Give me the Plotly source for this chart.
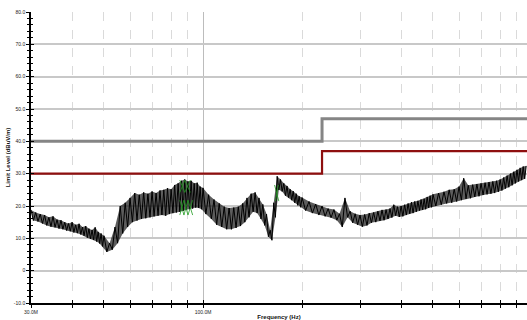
import math
import plotly.graph_objects as go

# ---------------- data ----------------
# Limit lines (frequency in MHz, level in dBuV/m)
LIMIT_FREQ = [30, 230, 1000]
LIMIT_GREY = [40, 47, 47]
LIMIT_RED = [30, 37, 37]

# Measured trace (peak detector sweep), MHz / dBuV/m; alternating crest / trough readings
FREQ_A = [30.0, 30.5, 31.0, 31.5, 32.0, 32.5, 33.0, 33.5, 34.0, 34.5, 35.0, 35.5, 36.0, 36.5,
          37.0, 37.5, 38.0, 38.5, 39.0, 39.5, 40.0, 40.5, 41.0, 41.5, 42.0, 42.5, 43.0, 43.5,
          44.0, 44.5, 45.0, 45.5, 46.0, 46.5, 47.0, 47.5, 48.0, 48.5, 49.0, 49.5, 50.0]
LEVEL_A = [18.8, 15.5, 18.0, 15.2, 17.5, 14.6, 17.2, 14.0, 16.5, 13.6, 16.8, 13.4, 15.8, 13.0,
           15.6, 12.8, 15.0, 12.4, 14.6, 12.2, 15.0, 11.8, 14.2, 11.6, 14.5, 11.2, 13.5, 10.8,
           13.8, 10.2, 13.0, 9.8, 12.6, 9.5, 13.4, 9.0, 12.0, 8.4, 11.5, 7.5, 10.8]

FREQ_B = [51, 52, 53, 54, 55, 56, 57, 58, 59, 60, 61, 62, 63, 64, 65, 66, 67, 68, 69, 70,
          71, 72, 73, 74, 75, 76, 77, 78, 79, 80, 81, 82, 83, 84, 85, 86, 87, 88, 89, 90,
          91, 92, 93, 94, 95, 96, 97, 98, 99, 100]
LEVEL_B = [5.8, 8.5, 6.5, 13.5, 8.5, 20.0, 11.5, 21.0, 13.5, 22.5, 15.0, 24.0, 15.5, 23.5,
           16.0, 24.2, 16.2, 23.8, 16.5, 24.5, 16.8, 24.0, 17.0, 24.8, 17.2, 25.0, 17.0, 25.5,
           17.5, 25.2, 17.8, 26.5, 18.0, 27.0, 18.2, 27.8, 18.5, 28.2, 18.8, 27.6, 19.0, 27.8,
           19.2, 27.0, 19.5, 27.2, 19.4, 26.0, 19.0, 25.6]

FREQ_C = [102, 104, 106, 108, 110, 112, 114, 116, 118, 120, 122, 124, 126, 128, 130, 132,
          134, 136, 138, 140, 142, 144, 146, 148, 150, 152, 154, 156, 158, 160, 162, 164,
          166, 168, 170, 172, 174, 176, 178, 180, 182, 184, 186, 188, 190, 192, 194, 196,
          198, 200]
LEVEL_C = [17.5, 23.5, 16.0, 22.0, 14.2, 20.8, 13.5, 19.8, 12.8, 19.4, 12.8, 19.5, 13.2, 19.8,
           13.8, 20.8, 15.0, 22.5, 16.5, 23.8, 18.2, 24.2, 17.8, 22.5, 16.0, 20.5, 14.0, 17.5,
           10.5, 12.5, 9.4, 21.0, 16.5, 29.2, 25.0, 28.2, 24.5, 27.0, 23.2, 26.2, 22.6, 25.2,
           21.8, 24.6, 21.0, 23.8, 20.2, 23.0, 19.6, 22.6]

FREQ_D = [205, 210, 215, 220, 225, 230, 235, 240, 245, 250, 255, 260, 265, 270, 275, 280,
          285, 290, 295, 300, 305, 310, 315, 320, 325, 330, 335, 340, 345, 350, 355, 360,
          365, 370, 375, 380, 385, 390, 395, 400, 405, 410, 415, 420, 425, 430, 435, 440,
          445, 450, 455, 460, 465, 470, 475, 480, 485, 490, 495, 500]
LEVEL_D = [18.6, 21.4, 17.8, 20.6, 17.2, 20.0, 16.8, 19.2, 16.4, 18.9, 15.6, 17.6, 13.5, 22.5,
           16.5, 18.4, 14.8, 17.6, 14.2, 17.2, 13.6, 17.4, 14.0, 17.8, 14.8, 18.0, 15.0, 18.4,
           15.4, 18.8, 15.6, 18.9, 16.0, 19.2, 16.4, 20.4, 17.0, 19.8, 16.6, 20.0, 16.8, 20.4,
           17.2, 20.8, 17.6, 21.2, 17.8, 21.4, 18.2, 21.6, 18.6, 22.0, 18.8, 22.2, 19.0, 22.8,
           19.4, 23.2, 19.6, 23.6]

FREQ_E = [510, 520, 530, 540, 550, 560, 570, 580, 590, 600, 610, 620, 630, 640, 650, 660,
          670, 680, 690, 700, 710, 720, 730, 740, 750, 760, 770, 780, 790, 800, 810, 820,
          830, 840, 850, 860, 870, 880, 890, 900, 910, 920, 930, 940, 950, 960]
LEVEL_E = [20.0, 24.0, 20.4, 24.4, 20.8, 25.0, 21.0, 25.2, 21.4, 26.0, 21.8, 28.6, 22.2, 26.4,
           22.4, 26.6, 22.8, 26.8, 23.0, 27.0, 23.4, 27.2, 23.6, 27.4, 23.8, 27.6, 24.0, 27.8,
           24.4, 28.2, 24.8, 28.8, 25.4, 29.4, 25.8, 30.0, 26.4, 30.6, 27.0, 31.2, 27.6, 31.8,
           28.0, 32.2, 28.4, 32.4]

# Green quasi-peak marks (segments separated by None)
QP_FREQ = [85, 88, None, 85, 88, None, 88, 91.5, None, 88, 91.5, None,
           85, 87.5, None, 85, 87.5, None, 87.5, 90, None, 87.5, 90, None, 90, 93, None, 90, 93, None,
           165, 170, None, 166, 169.5]
QP_LEVEL = [28, 24.2, None, 24.2, 28, None, 28, 24.2, None, 24.2, 28, None,
            21.8, 17.2, None, 17.2, 21.8, None, 21.8, 17.2, None, 17.2, 21.8, None, 21.8, 17.2, None, 17.2, 21.8, None,
            26.5, 21.5, None, 21.5, 26.5]

X_MAJOR = [30, 100, 1000]
X_MAJOR_TEXT = ["30.0M", "100.0M", "1.0G"]
X_MINOR = [40, 50, 60, 70, 80, 90, 200, 300, 400, 500, 600, 700, 800, 900]
Y_TICKS = [-10, 0, 10, 20, 30, 40, 50, 60, 70, 80]
Y_TICK_TEXT = ["-10.0", "0", "10.0", "20.0", "30.0", "40.0", "50.0", "60.0", "70.0", "80.0"]

# ---------------- figure ----------------
trace_f = FREQ_A + FREQ_B + FREQ_C + FREQ_D + FREQ_E
trace_l = LEVEL_A + LEVEL_B + LEVEL_C + LEVEL_D + LEVEL_E

# envelope polygon of the dense sweep: crests forward, troughs backward
crest_f, crest_l, trough_f, trough_l = [], [], [], []
for i, (f, l) in enumerate(zip(trace_f, trace_l)):
    prev_l = trace_l[i - 1] if i > 0 else trace_l[i + 1]
    if l >= prev_l:
        crest_f.append(f); crest_l.append(l)
    else:
        trough_f.append(f); trough_l.append(l)
band_f = crest_f + trough_f[::-1]
band_l = crest_l + trough_l[::-1]

fig = go.Figure()
fig.add_trace(go.Scatter(x=band_f, y=band_l, mode="lines", fill="toself",
                         fillcolor="rgba(30,30,30,0.72)", line=dict(color="rgba(0,0,0,0)", width=0),
                         hoverinfo="skip"))
fig.add_trace(go.Scatter(x=trace_f, y=trace_l, mode="lines",
                         line=dict(color="black", width=1), hoverinfo="skip"))
fig.add_trace(go.Scatter(x=QP_FREQ, y=QP_LEVEL, mode="lines",
                         line=dict(color="#1f9a1f", width=0.8), connectgaps=False, hoverinfo="skip"))
fig.add_trace(go.Scatter(x=LIMIT_FREQ, y=LIMIT_GREY, mode="lines", line_shape="hv",
                         line=dict(color="#858585", width=3), hoverinfo="skip"))
fig.add_trace(go.Scatter(x=LIMIT_FREQ, y=LIMIT_RED, mode="lines", line_shape="hv",
                         line=dict(color="#8e0f0f", width=2.2), hoverinfo="skip"))
# helper trace for the inner tick axes
fig.add_trace(go.Scatter(x=[100], y=[0], xaxis="x2", yaxis="y2", mode="markers",
                         marker=dict(opacity=0), hoverinfo="skip"))

x0 = math.log10(30)
x1 = x0 + 1.5076

tickfont = dict(family="Liberation Sans", size=5, color="#222")
titlefont = dict(family="Liberation Sans", size=6, color="#111")
fig.update_layout(
    width=527, height=320,
    margin=dict(l=31, r=0, t=12, b=17),
    paper_bgcolor="white", plot_bgcolor="white",
    showlegend=False,
    xaxis=dict(type="log", range=[x0, x1], showline=True, linecolor="black", linewidth=2,
               ticks="outside", ticklen=3, tickwidth=1, tickcolor="black",
               tickvals=X_MAJOR, ticktext=X_MAJOR_TEXT, tickfont=tickfont,
               showgrid=True, gridcolor="#bcbcbc", gridwidth=1.2, zeroline=False,
               minor=dict(tickvals=X_MINOR, ticks="outside", ticklen=3, tickwidth=1,
                          tickcolor="black", showgrid=True, gridcolor="#dadada",
                          griddash="dash", gridwidth=1),
               title=dict(text="<b>Frequency (Hz)</b>", standoff=1, font=titlefont)),
    yaxis=dict(range=[-10, 80], showline=True, linecolor="black", linewidth=1.5,
               ticks="outside", ticklen=3, tickwidth=1, tickcolor="black",
               tickvals=Y_TICKS, ticktext=Y_TICK_TEXT, tickfont=tickfont,
               showgrid=True, gridcolor="#c8c8c8", gridwidth=1.6, zeroline=False,
               minor=dict(dtick=2, ticks="outside", ticklen=2, tickwidth=1, tickcolor="black",
                          showgrid=False),
               title=dict(text="<b>Limit Level (dBuV/m)</b>", standoff=3, font=titlefont)),
    xaxis2=dict(type="log", range=[x0, x1], overlaying="x", anchor="y2", side="bottom",
                ticks="inside", ticklen=3, tickwidth=1, tickcolor="black",
                tickvals=X_MAJOR, showticklabels=False, showgrid=False, showline=False,
                zeroline=False,
                minor=dict(tickvals=X_MINOR, ticks="inside", ticklen=3, tickwidth=1,
                           tickcolor="black", showgrid=False)),
    yaxis2=dict(range=[-10, 80], overlaying="y", anchor="x2", side="left",
                ticks="inside", ticklen=3, tickwidth=1, tickcolor="black",
                tickvals=Y_TICKS, showticklabels=False, showgrid=False, showline=False,
                zeroline=False,
                minor=dict(dtick=2, ticks="inside", ticklen=2, tickwidth=1, tickcolor="black",
                           showgrid=False)),
)

fig.write_html("out.html", config={"displayModeBar": False},
               post_script="document.body.style.margin='0';")
